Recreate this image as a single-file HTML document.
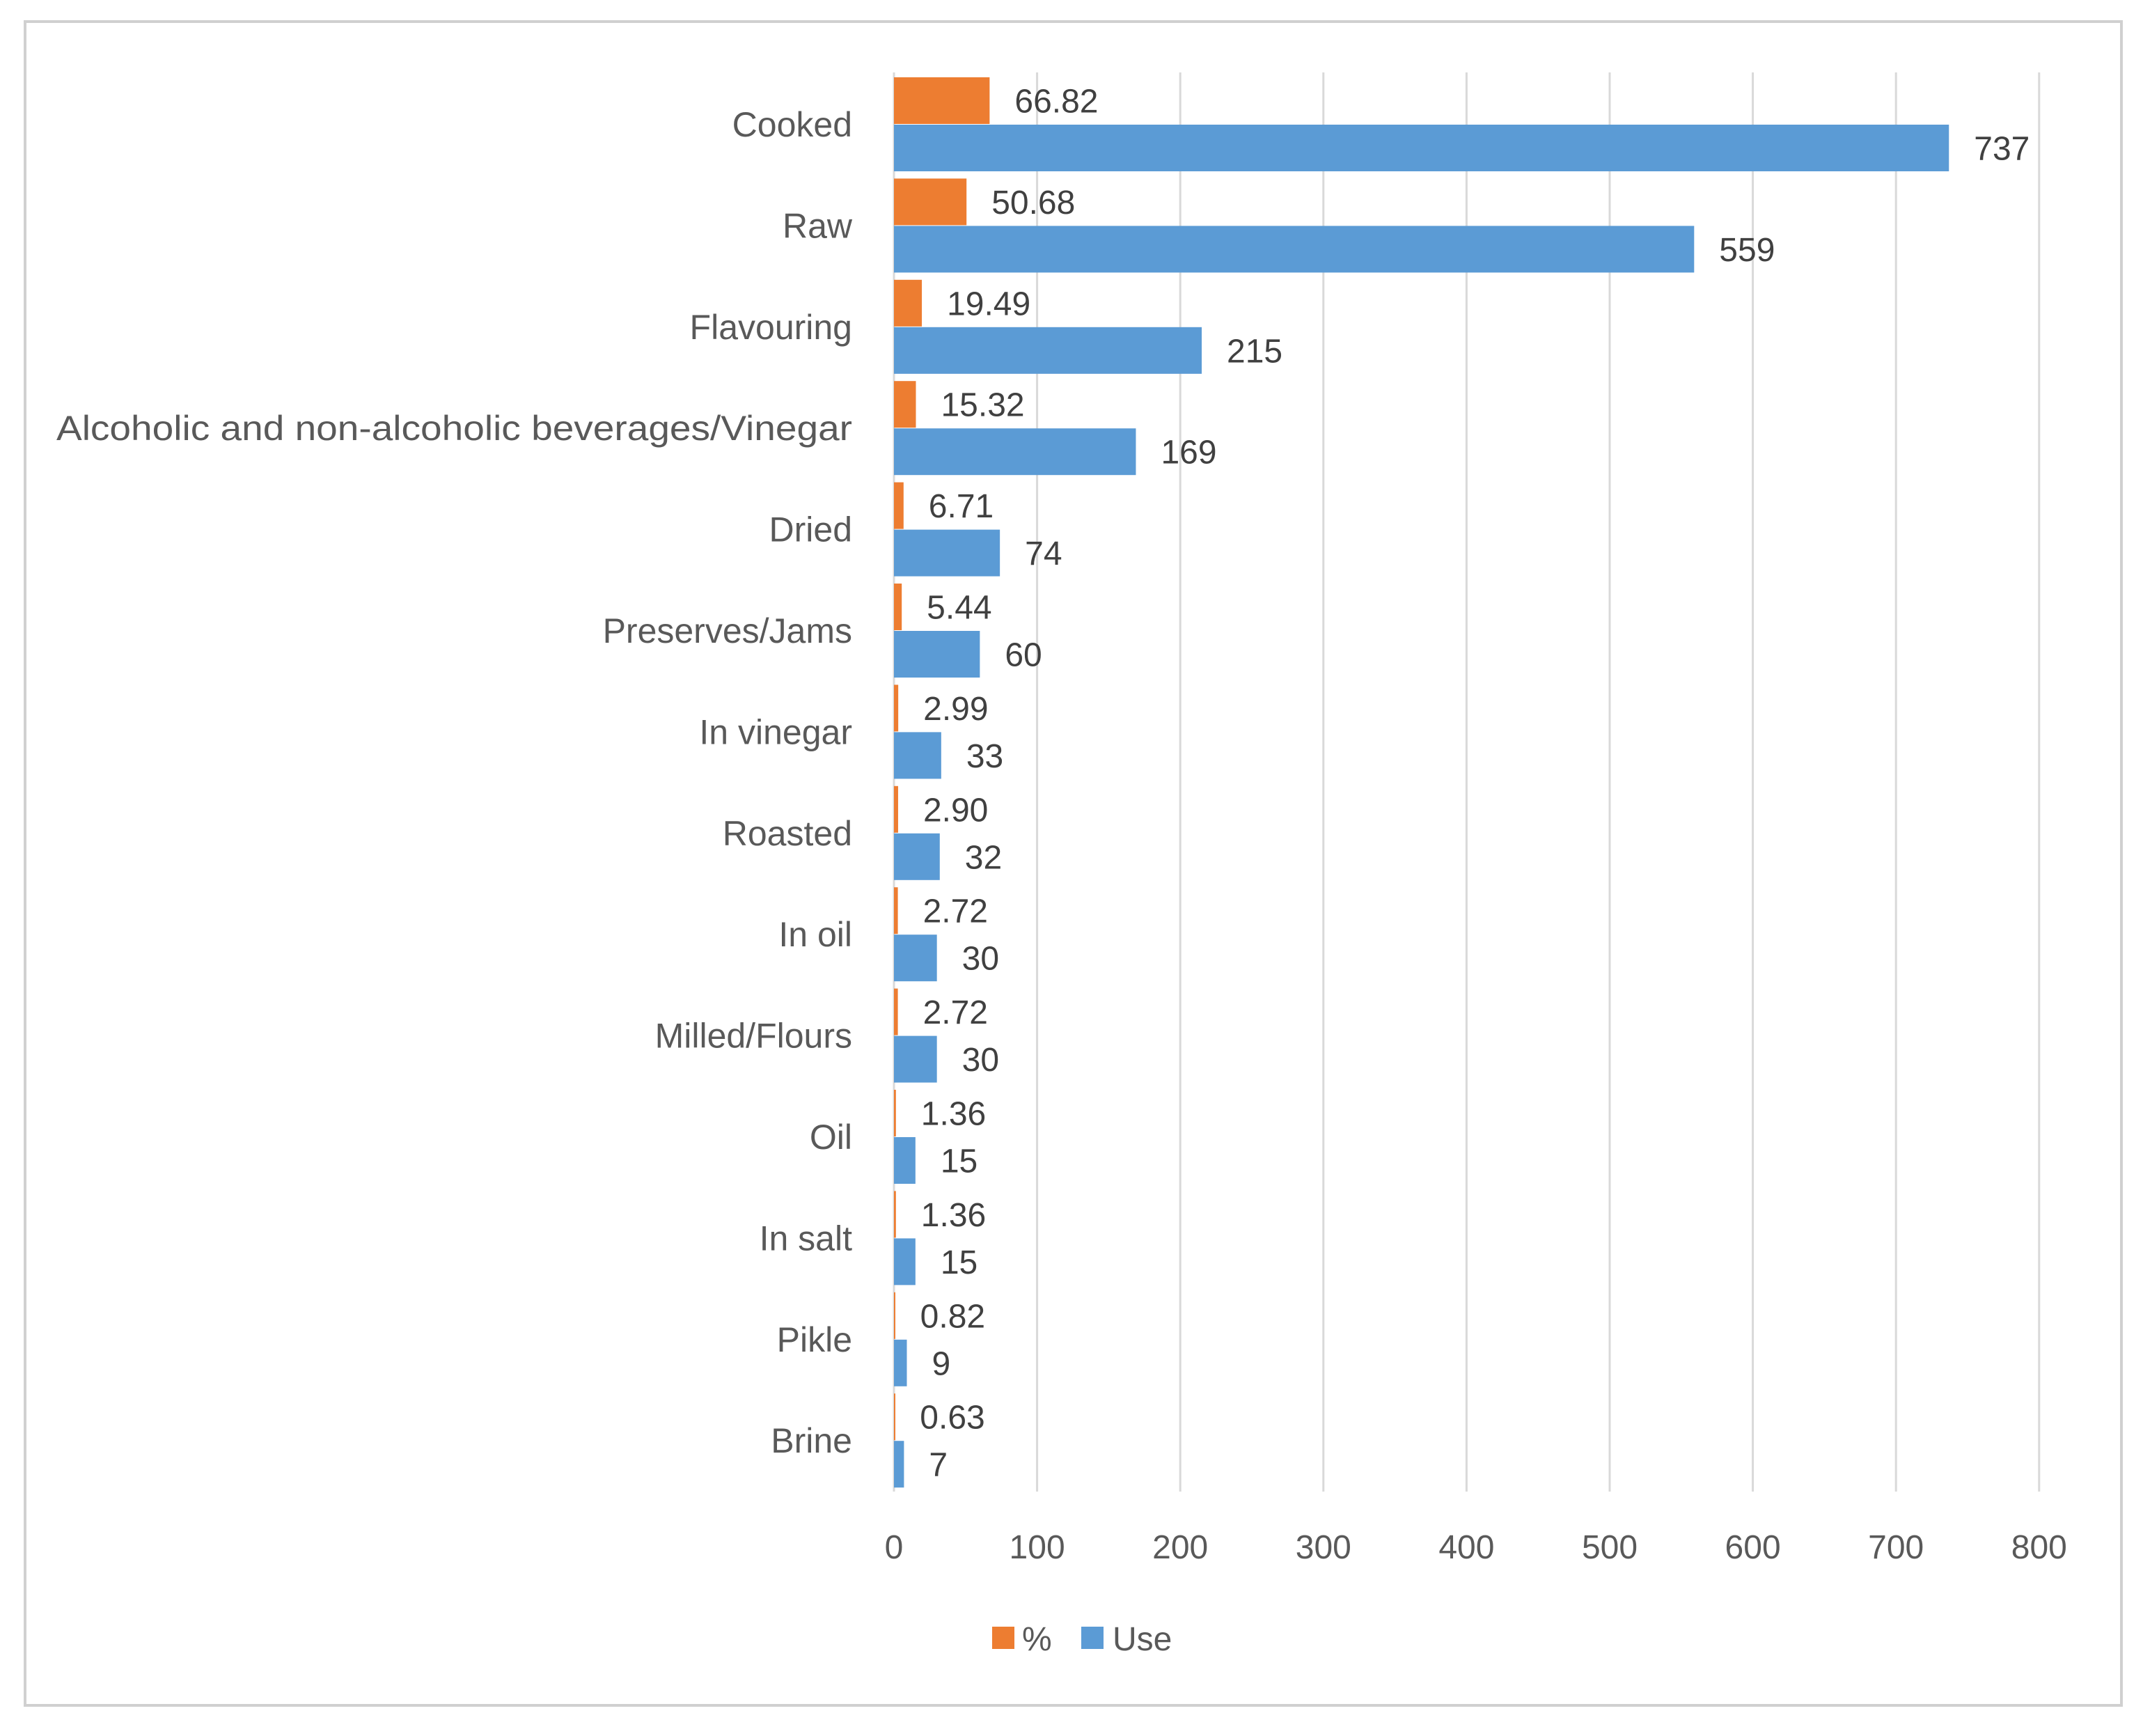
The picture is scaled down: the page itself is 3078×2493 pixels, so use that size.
<!DOCTYPE html>
<html><head><meta charset="utf-8"><style>
html,body{margin:0;padding:0;background:#fff;}
svg{display:block;font-family:"Liberation Sans",sans-serif;}
</style></head><body>
<svg id="chart" width="3078" height="2493" viewBox="0 0 3078 2493" xmlns="http://www.w3.org/2000/svg">
<rect x="36" y="31" width="3011" height="2418" fill="#fff" stroke="#d0d0d0" stroke-width="4"/>
<g id="grid"></g><g id="bars"></g><g id="labels"></g><g id="ticks"></g>
<g>
<rect x="1425" y="2336" width="32" height="32" fill="#ED7D31"/>
<text x="1468" y="2370" font-size="48" fill="#595959">%</text>
<rect x="1553" y="2336" width="32" height="32" fill="#5B9BD5"/>
<text x="1598" y="2370" font-size="48" fill="#595959">Use</text>
</g>
</svg>
<script>
const categories=["Cooked","Raw","Flavouring","Alcoholic and non-alcoholic beverages/Vinegar","Dried","Preserves/Jams","In vinegar","Roasted","In oil","Milled/Flours","Oil","In salt","Pikle","Brine"];
const pctValues=[66.82,50.68,19.49,15.32,6.71,5.44,2.99,2.90,2.72,2.72,1.36,1.36,0.82,0.63];
const useValues=[737,559,215,169,74,60,33,32,30,30,15,15,9,7];
const tickValues=[0,100,200,300,400,500,600,700,800];
const NS="http://www.w3.org/2000/svg";
const x0=1284,pxPer=2.056,top0=106,bandH=145.4,barH=67;
function xs(v){return x0+v*pxPer;}
function mk(tag,attrs,parent,txt){const e=document.createElementNS(NS,tag);for(const k in attrs)e.setAttribute(k,attrs[k]);if(txt!==undefined)e.textContent=txt;document.getElementById(parent).appendChild(e);return e;}
tickValues.forEach(t=>{
  const l=mk('line',{x1:xs(t),x2:xs(t),y1:104,y2:2142,stroke:'#d9d9d9','stroke-width':3},'grid');
  
  
  const tx=mk('text',{x:xs(t),y:2238,'font-size':48,fill:'#595959','text-anchor':'middle'},'ticks',String(t));
  
  
});
categories.forEach((c,i)=>{
  const b=top0+i*bandH+5;
  const r1=mk('rect',{x:x0,y:b,width:Math.max(xs(pctValues[i])-x0,2),height:barH,fill:'#ED7D31'},'bars');
  
  
  const r2=mk('rect',{x:x0,y:b+barH+1,width:xs(useValues[i])-x0,height:barH,fill:'#5B9BD5'},'bars');
  
  
  const t1=mk('text',{x:xs(pctValues[i])+36,y:b+barH/2+17,'font-size':48,fill:'#404040'},'labels',pctValues[i].toFixed(2));
  
  
  const t2=mk('text',{x:xs(useValues[i])+36,y:b+barH*1.5+18,'font-size':48,fill:'#404040'},'labels',String(useValues[i]));
  
  
  const a={x:1224,y:b+barH+18,'font-size':50,fill:'#595959','text-anchor':'end'};
  if(c.length>30){a.textLength=1143;a.lengthAdjust='spacingAndGlyphs';}
  const cl=mk('text',a,'labels',c);
  
  
});
</script>
</body></html>
